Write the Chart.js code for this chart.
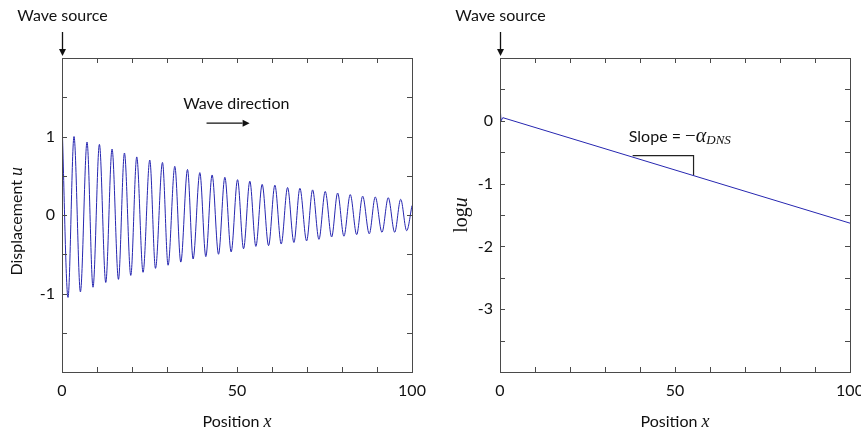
<!DOCTYPE html>
<html>
<head>
<meta charset="utf-8">
<script src="https://cdn.jsdelivr.net/npm/chart.js@4.4.1/dist/chart.umd.min.js"></script>
<style>
  html, body { margin: 0; padding: 0; background: #fff; }
  #wrap { position: relative; width: 861px; height: 438px; }
  canvas { position: absolute; top: 0; }
  #left { left: 0; }
  #right { left: 430px; }
</style>
</head>
<body>
<div id="wrap">
  <canvas id="left" width="430" height="438"></canvas>
  <canvas id="right" width="431" height="438"></canvas>
</div>
<script>
// Values

// left panel: start, then troughs and crests of the decaying wave in order
const waveX = [0,
  1.72, 3.43, 5.26, 7.15, 8.86, 10.69, 12.50, 14.30, 16.13, 17.84,
  19.65, 21.36, 23.16, 25.08, 26.71, 28.71, 30.31, 32.23, 33.94, 35.86,
  37.46, 39.38, 41.09, 42.89, 44.72, 46.53, 48.33, 50.16, 51.87, 53.67,
  55.39, 57.19, 59.02, 60.82, 62.63, 64.45, 66.26, 67.97, 69.89, 71.60,
  73.41, 75.21, 77.04, 78.75, 80.55, 82.36, 84.19, 85.90, 87.79, 89.51,
  91.42, 93.22, 95.05, 96.77, 98.48, 100];
const waveU = [1.2,
  -1.05, 1.00, -0.98, 0.93, -0.92, 0.90, -0.86, 0.84, -0.82, 0.79,
  -0.77, 0.74, -0.73, 0.70, -0.68, 0.67, -0.64, 0.62, -0.60, 0.58,
  -0.56, 0.54, -0.53, 0.51, -0.50, 0.48, -0.47, 0.45, -0.43, 0.43,
  -0.40, 0.39, -0.39, 0.38, -0.37, 0.35, -0.35, 0.34, -0.33, 0.32,
  -0.31, 0.30, -0.28, 0.28, -0.27, 0.26, -0.25, 0.24, -0.24, 0.23,
  -0.22, 0.22, -0.22, 0.20, -0.20, 0.12];

// right panel: log of the amplitude
const logX = [0, 0.3, 0.8, 100];
const logU = [0.24, 0.0, 0.05, -1.63];

// slope triangle under the log line
const slopeX = [37.9, 55.3, 55.3];
const slopeY = [-0.556, -0.556, -0.873];

const xTickLabels = [0, 50, 100];
const leftYTickLabels = [-1, 0, 1];
const rightYTickLabels = [-3, -2, -1, 0];

const TEXT_FONT = 'Lato, "Open Sans", sans-serif';
const MATH_FONT = '"Liberation Serif", "DejaVu Serif", serif';
const LINE_BLUE = '#2626b0';
const FRAME = '#4a4a4a';

// draw a run of text pieces with different fonts, centred on x
function drawParts(ctx, parts, x, y, align) {
    let total = 0;
    parts.forEach(p => {
        ctx.font = p.font;
        p.w = ctx.measureText(p.text).width;
        total += p.w;
    });
    let cx = align === 'left' ? x : x - total / 2;
    ctx.textBaseline = 'middle';
    ctx.textAlign = 'left';
    parts.forEach(p => {
        ctx.font = p.font;
        ctx.fillText(p.text, cx, y + (p.dy || 0));
        cx += p.w;
    });
}

function arrow(ctx, x0, y0, x1, y1) {
    const ang = Math.atan2(y1 - y0, x1 - x0);
    const head = 7, half = 3.5;
    ctx.beginPath();
    ctx.moveTo(x0, y0);
    ctx.lineTo(x1 - head * Math.cos(ang), y1 - head * Math.sin(ang));
    ctx.stroke();
    ctx.beginPath();
    ctx.moveTo(x1, y1);
    ctx.lineTo(x1 - head * Math.cos(ang) - half * Math.sin(ang), y1 - head * Math.sin(ang) + half * Math.cos(ang));
    ctx.lineTo(x1 - head * Math.cos(ang) + half * Math.sin(ang), y1 - head * Math.sin(ang) - half * Math.cos(ang));
    ctx.closePath();
    ctx.fill();
}

// box round the plot with inward ticks on all four sides
const boxTicks = {
    id: 'boxTicks',
    afterDatasetsDraw(chart, args, opts) {
        const ctx = chart.ctx;
        const a = chart.chartArea;
        const xs = chart.scales.x, ys = chart.scales.y;
        ctx.save();
        ctx.strokeStyle = FRAME;
        ctx.lineWidth = 1;
        ctx.beginPath();
        for (let v = xs.min; v <= xs.max + 1e-9; v += opts.xStep) {
            const px = Math.round(xs.getPixelForValue(v)) + 0.5;
            ctx.moveTo(px, a.bottom); ctx.lineTo(px, a.bottom - 5);
            ctx.moveTo(px, a.top); ctx.lineTo(px, a.top + 5);
        }
        for (let v = ys.min; v <= ys.max + 1e-9; v += opts.yStep) {
            const py = Math.round(ys.getPixelForValue(v)) + 0.5;
            ctx.moveTo(a.left, py); ctx.lineTo(a.left + 5, py);
            ctx.moveTo(a.right, py); ctx.lineTo(a.right - 5, py);
        }
        ctx.stroke();
        ctx.strokeRect(Math.round(a.left) + 0.5, Math.round(a.top) + 0.5,
            Math.round(a.right - a.left), Math.round(a.bottom - a.top));
        ctx.restore();
    }
};

function makeConfig(datasets, yMin, yMax, yLabels, yWidth, padRight, notes) {
    return {
        type: 'line',
        data: { datasets: datasets },
        options: {
            responsive: false,
            animation: false,
            layout: { padding: { left: 0, right: padRight, top: 58, bottom: 0 } },
            plugins: {
                legend: { display: false },
                tooltip: { enabled: false },
                boxTicks: { xStep: 10, yStep: 0.5 }
            },
            elements: { point: { radius: 0 } },
            scales: {
                x: {
                    type: 'linear', min: 0, max: 100,
                    grid: { display: false, drawTicks: false },
                    border: { display: false },
                    ticks: {
                        stepSize: 10, autoSkip: false, maxRotation: 0,
                        padding: 9, color: '#111',
                        font: { family: TEXT_FONT, size: 16 },
                        callback: v => xTickLabels.includes(v) ? String(v) : ''
                    },
                    afterFit: s => {
                        s.height = 66;
                        s.paddingLeft = 0;
                        s.paddingRight = 0;
                    }
                },
                y: {
                    type: 'linear', min: yMin, max: yMax,
                    grid: { display: false, drawTicks: false },
                    border: { display: false },
                    ticks: {
                        stepSize: 0.5, autoSkip: false,
                        padding: 7, color: '#111',
                        font: { family: TEXT_FONT, size: 16 },
                        callback: v => yLabels.includes(v) ? String(v) : ''
                    },
                    afterFit: s => {
                        s.width = yWidth;
                        s.paddingTop = 0;
                        s.paddingBottom = 0;
                    }
                }
            }
        },
        plugins: [boxTicks, { id: 'notes', afterDraw: notes }]
    };
}

function waveSource(chart) {
    const ctx = chart.ctx;
    const x0 = Math.round(chart.scales.x.getPixelForValue(0)) + 0.5;
    ctx.save();
    ctx.fillStyle = '#111';
    ctx.strokeStyle = '#111';
    ctx.lineWidth = 1.3;
    drawParts(ctx, [{ text: 'Wave source', font: '16px ' + TEXT_FONT }], x0, 16, 'center');
    arrow(ctx, x0, 32, x0, chart.chartArea.top - 2);
    ctx.restore();
}

function leftNotes(chart) {
    const ctx = chart.ctx;
    const xs = chart.scales.x, ys = chart.scales.y;
    waveSource(chart);
    ctx.save();
    ctx.fillStyle = '#111';
    ctx.strokeStyle = '#111';
    ctx.lineWidth = 1.3;
    drawParts(ctx, [{ text: 'Wave direction', font: '16px ' + TEXT_FONT }],
        xs.getPixelForValue(49.8), ys.getPixelForValue(1.41), 'center');
    arrow(ctx, xs.getPixelForValue(41.3), ys.getPixelForValue(1.17),
        xs.getPixelForValue(53.6), ys.getPixelForValue(1.17));
    // axis titles
    drawParts(ctx, [{ text: 'Position ', font: '16px ' + TEXT_FONT },
        { text: 'x', font: 'italic 18px ' + MATH_FONT }],
        (chart.chartArea.left + chart.chartArea.right) / 2, 422, 'center');
    ctx.translate(17, ys.getPixelForValue(-0.08));
    ctx.rotate(-Math.PI / 2);
    drawParts(ctx, [{ text: 'Displacement ', font: '16px ' + TEXT_FONT },
        { text: 'u', font: 'italic 18px ' + MATH_FONT }], 0, 0, 'center');
    ctx.restore();
}

function rightNotes(chart) {
    const ctx = chart.ctx;
    const xs = chart.scales.x, ys = chart.scales.y;
    waveSource(chart);
    ctx.save();
    ctx.fillStyle = '#111';
    drawParts(ctx, [
        { text: 'Slope = ', font: '16px ' + TEXT_FONT },
        { text: '\u2212', font: '19px ' + MATH_FONT },
        { text: '\u03b1', font: 'italic 20px ' + MATH_FONT },
        { text: 'DNS', font: 'italic 13px ' + MATH_FONT, dy: 4 }
    ], xs.getPixelForValue(36.8), ys.getPixelForValue(-0.254), 'left');
    drawParts(ctx, [{ text: 'Position ', font: '16px ' + TEXT_FONT },
        { text: 'x', font: 'italic 18px ' + MATH_FONT }],
        (chart.chartArea.left + chart.chartArea.right) / 2, 422, 'center');
    ctx.translate(32, ys.getPixelForValue(-1.5));
    ctx.rotate(-Math.PI / 2);
    drawParts(ctx, [{ text: 'log', font: '20px ' + MATH_FONT },
        { text: 'u', font: 'italic 20px ' + MATH_FONT }], 0, 0, 'center');
    ctx.restore();
}

function toPoints(xs, ys) {
    return xs.map((x, i) => ({ x: x, y: ys[i] }));
}

document.addEventListener('DOMContentLoaded', function() {
    new Chart(document.getElementById('left'), makeConfig([
        {
            data: toPoints(waveX, waveU),
            borderColor: LINE_BLUE, borderWidth: 1,
            cubicInterpolationMode: 'monotone', fill: false
        }
    ], -2, 2, leftYTickLabels, 62, 18, leftNotes));

    new Chart(document.getElementById('right'), makeConfig([
        {
            data: toPoints(logX, logU),
            borderColor: LINE_BLUE, borderWidth: 1, tension: 0, fill: false
        },
        {
            data: toPoints(slopeX, slopeY),
            borderColor: '#222', borderWidth: 1.2, tension: 0, fill: false
        }
    ], -4, 1, rightYTickLabels, 70, 11, rightNotes));
});
</script>
</body>
</html>
